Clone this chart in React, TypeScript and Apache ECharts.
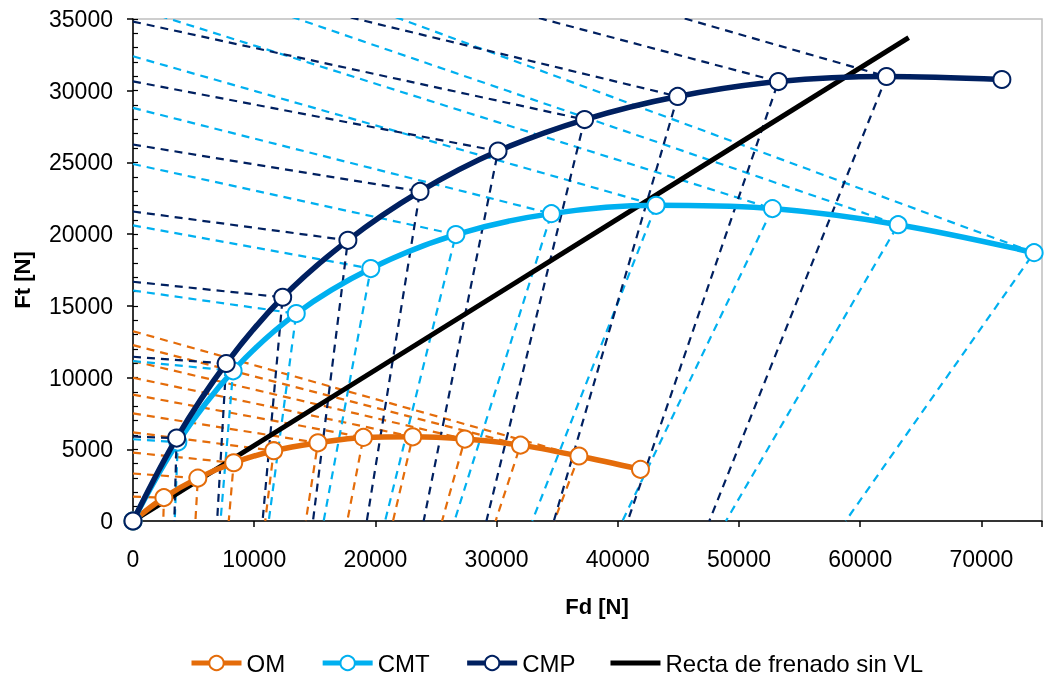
import React, { useEffect, useRef } from "react";
import * as echarts from "echarts";

// Curve points (Fd [N], Ft [N]) for mu = 0, 0.1, 0.2, ...
const OM_FD = [0, 2550, 5350, 8310, 11610, 15260, 19010, 23080, 27380, 31970, 36790, 41870];
const OM_FT = [0, 1630, 2990, 4060, 4900, 5450, 5830, 5870, 5710, 5290, 4530, 3600];
const CMT_FD = [0, 3700, 8260, 13470, 19620, 26640, 34520, 43160, 52760, 63130, 74350];
const CMT_FT = [0, 5500, 10470, 14460, 17600, 19970, 21430, 22010, 21780, 20660, 18710];
const CMP_FD = [0, 3600, 7690, 12350, 17730, 23680, 30120, 37260, 44940, 53250, 62170, 71690];
const CMP_FT = [0, 5780, 10980, 15600, 19570, 22980, 25790, 27990, 29600, 30640, 30990, 30780];

// Dashed braking lines for mu = 0.1 ... 1.0: Ft-axis intercepts and Fd-axis intercepts
const OM_FT0 = [1700, 3310, 4770, 6180, 7500, 8810, 9990, 11150, 12260, 13230];
const OM_FD0 = [2500, 5150, 7900, 10910, 14260, 17680, 21450, 25500, 29920, 34760];
const CMT_FT0 = [5700, 11150, 16070, 20610, 24890, 28800, 32400, 35810, 38940, 41890];
const CMT_FD0 = [3440, 7220, 11200, 15730, 20800, 26520, 32940, 40380, 48920, 58800];
const CMP_FT0 = [5890, 11450, 16680, 21580, 26250, 30650, 34820, 38770, 42570, 46080];
const CMP_FD0 = [3410, 6940, 10690, 14850, 19290, 23980, 29160, 34720, 40820, 47550];

// Straight braking line
const RECTA_FD = [0, 64000];
const RECTA_FT = [0, 33700];

const X_TICKS = [0, 10000, 20000, 30000, 40000, 50000, 60000, 70000];

const ORANGE = "#E46C0A";
const LBLUE = "#00B0F0";
const NAVY = "#002060";
const FONT = '"Liberation Sans", Arial, sans-serif';

function pairs(xs: number[], ys: number[]) {
  return xs.map((x, i) => [x, ys[i]]);
}

function dashed(prefix: string, fd: number[], ft: number[], ft0: number[], fd0: number[], color: string) {
  return ft0.map((a, i) => ({
    name: prefix + "-d" + i,
    type: "line",
    data: [
      [0, a],
      [fd[i + 1], ft[i + 1]],
      [fd0[i], 0],
    ],
    symbol: "none",
    silent: true,
    clip: true,
    z: 1,
    lineStyle: { color, width: 2.2, type: [8, 6] },
  }));
}

function curve(name: string, fd: number[], ft: number[], color: string, z: number) {
  return {
    name,
    type: "line",
    data: pairs(fd, ft),
    smooth: 0.35,
    symbol: "circle",
    symbolSize: 17,
    showSymbol: true,
    z,
    lineStyle: { color, width: 5.5 },
    itemStyle: { color: "#ffffff", borderColor: color, borderWidth: 2 },
  };
}

export default function App() {
  const ref = useRef<HTMLDivElement>(null);
  useEffect(() => {
    const chart = echarts.init(ref.current!, null, { renderer: "svg" });
    const option: any = {
      animation: false,
      textStyle: { fontFamily: FONT },
      grid: {
        left: 133,
        top: 19,
        right: 3,
        bottom: 160,
        show: true,
        borderColor: "#BFBFBF",
        borderWidth: 1.5,
      },
      xAxis: {
        type: "value",
        min: 0,
        max: 75000,
        interval: 10000,
        splitLine: { show: false },
        axisLine: { lineStyle: { color: "#000", width: 1.5 } },
        axisTick: { length: 6, lineStyle: { color: "#000", width: 1.5 } },
        axisLabel: {
          color: "#000",
          fontSize: 23,
          fontFamily: FONT,
          margin: 26,
          formatter: (v: number) => (X_TICKS.indexOf(v) >= 0 ? String(v) : ""),
        },
      },
      yAxis: [
        {
          type: "value",
          min: 0,
          max: 35000,
          interval: 5000,
          position: "left",
          splitLine: { show: false },
          axisLine: { lineStyle: { color: "#000", width: 1.5 } },
          axisTick: { length: 6, lineStyle: { color: "#000", width: 1.5 } },
          axisLabel: {
            color: "#000",
            fontSize: 23,
            fontFamily: FONT,
            margin: 20,
            formatter: (v: number) => String(v),
          },
        },
        {
          type: "value",
          min: 0,
          max: 35000,
          interval: 1000,
          position: "left",
          offset: 0,
          splitLine: { show: false },
          axisLine: { show: false },
          axisTick: { inside: true, length: 5, lineStyle: { color: "#000", width: 1.2 } },
          axisLabel: { show: false },
        },
      ],
      legend: {
        data: [
          "OM",
          "CMT",
          "CMP",
          { name: "Recta de frenado sin VL", icon: "path://M0 0H50V5H0Z" },
        ],
        left: 184,
        top: 646,
        itemWidth: 50,
        itemHeight: 18,
        itemGap: 35,
        lineStyle: { width: 5 },
        textStyle: { fontSize: 24, color: "#000", fontFamily: FONT },
      },
      graphic: [
        {
          type: "text",
          x: 597,
          y: 606,
          style: {
            text: "Fd [N]",
            fontSize: 22,
            fontWeight: "bold",
            fontFamily: FONT,
            fill: "#000",
            align: "center",
            verticalAlign: "middle",
          },
        },
        {
          type: "text",
          x: 22,
          y: 280,
          rotation: Math.PI / 2,
          style: {
            text: "Ft [N]",
            fontSize: 22,
            fontWeight: "bold",
            fontFamily: FONT,
            fill: "#000",
            align: "center",
            verticalAlign: "middle",
          },
        },
      ],
      series: [
        ...dashed("OM", OM_FD, OM_FT, OM_FT0, OM_FD0, ORANGE),
        ...dashed("CMT", CMT_FD, CMT_FT, CMT_FT0, CMT_FD0, LBLUE),
        ...dashed("CMP", CMP_FD, CMP_FT, CMP_FT0, CMP_FD0, NAVY),
        {
          name: "Recta de frenado sin VL",
          type: "line",
          data: pairs(RECTA_FD, RECTA_FT),
          symbol: "none",
          z: 2,
          lineStyle: { color: "#000", width: 5 },
          itemStyle: { color: "#000" },
        },
        curve("OM", OM_FD, OM_FT, ORANGE, 3),
        curve("CMT", CMT_FD, CMT_FT, LBLUE, 4),
        curve("CMP", CMP_FD, CMP_FT, NAVY, 5),
      ],
    };
    chart.setOption(option);
    return () => chart.dispose();
  }, []);
  return (
    <div
      ref={ref}
      style={{ position: "fixed", left: 0, top: 0, width: 1045, height: 681 }}
    />
  );
}
